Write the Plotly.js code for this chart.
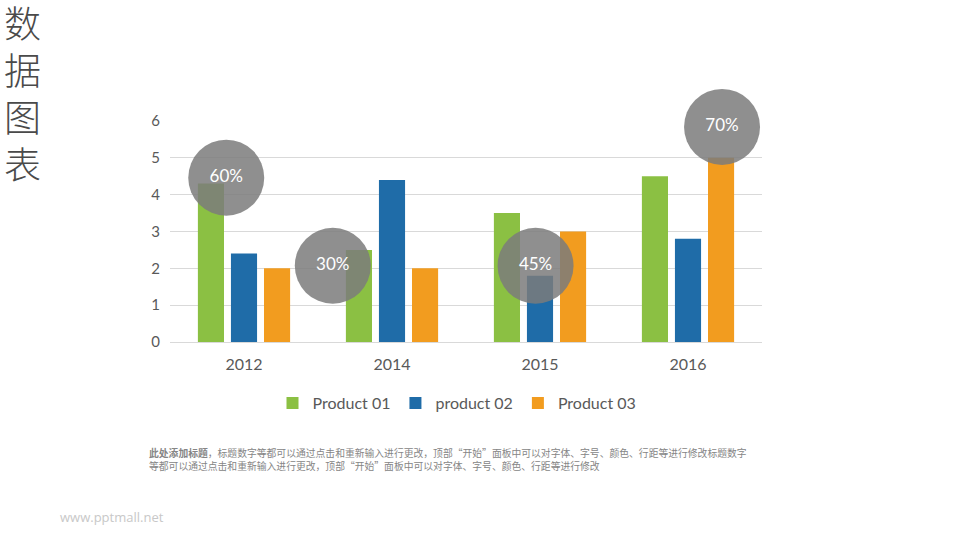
<!DOCTYPE html>
<html>
<head>
<meta charset="utf-8">
<script src="https://cdn.plot.ly/plotly-3.0.1.min.js"></script>
<style>
  html, body { margin: 0; padding: 0; background: #ffffff; }
  #chart { width: 960px; height: 540px; }
</style>
</head>
<body>
<div id="chart"></div>
<script>
// ---- data ----
const categories = ['2012', '2014', '2015', '2016'];
const seriesNames = ['Product 01', 'product 02', 'Product 03'];
const product01 = [4.3, 2.5, 3.5, 4.5];
const product02 = [2.4, 4.4, 1.8, 2.8];
const product03 = [2.0, 2.0, 3.0, 5.0];
const seriesColors = ['#8bc043', '#1f6ca8', '#f29c1f'];

// percentage badges (category index position, value position)
const badgeLabels = ['60%', '30%', '45%', '70%'];
const badgeX = [-0.12, 0.60, 1.97, 3.23];
const badgeY = [4.46, 2.07, 2.07, 5.84];

const yTicks = [0, 1, 2, 3, 4, 5, 6];

const titleChars = ['数', '据', '图', '表'];
const noteTitle = '此处添加标题';
const noteLine1 = '，标题数字等都可以通过点击和重新输入进行更改，顶部“开始”面板中可以对字体、字号、颜色、行距等进行修改标题数字';
const noteLine2 = '等都可以通过点击和重新输入进行更改，顶部“开始”面板中可以对字体、字号、颜色、行距等进行修改';
const watermark = 'www.pptmall.net';

// ---- build ----
const idx = categories.map((c, i) => i);
const series = [product01, product02, product03];
const traces = series.map((vals, k) => ({
  type: 'bar',
  name: seriesNames[k],
  x: idx,
  y: vals,
  marker: { color: seriesColors[k] },
  hoverinfo: 'skip'
}));

traces.push({
  type: 'scatter',
  mode: 'markers+text',
  x: badgeX,
  y: badgeY,
  text: badgeLabels,
  textposition: 'middle center',
  textfont: { family: 'Lato, sans-serif', size: 17, color: '#ffffff' },
  marker: { size: 76, color: 'rgba(123,123,123,0.85)', line: { width: 0 } },
  cliponaxis: false,
  showlegend: false,
  hoverinfo: 'skip'
});

const plotL = 170, plotR = 762, plotT = 121, plotB = 342;
const pw = plotR - plotL, ph = plotB - plotT;
const px = x => (x - plotL) / pw;
const py = y => (plotB - y) / ph;

const annotations = [];
const charCenters = [22, 69, 116, 163];
titleChars.forEach((ch, i) => {
  annotations.push({
    xref: 'paper', yref: 'paper',
    x: px(22), y: py(charCenters[i]),
    xanchor: 'center', yanchor: 'middle',
    text: ch, showarrow: false,
    height: 44,
    font: { family: '"Noto Sans CJK SC", sans-serif', size: 37, color: '#4a4a4a', weight: 300 }
  });
});
annotations.push({
  xref: 'paper', yref: 'paper',
  x: px(147), y: py(453),
  xanchor: 'left', yanchor: 'middle', align: 'left',
  text: '<b>' + noteTitle + '</b>' + noteLine1, showarrow: false,
  font: { family: '"Noto Sans CJK SC", sans-serif', size: 9.8, color: '#858585' }
});
annotations.push({
  xref: 'paper', yref: 'paper',
  x: px(147), y: py(466),
  xanchor: 'left', yanchor: 'middle', align: 'left',
  text: noteLine2, showarrow: false,
  font: { family: '"Noto Sans CJK SC", sans-serif', size: 9.8, color: '#858585' }
});
annotations.push({
  xref: 'paper', yref: 'paper',
  x: px(58), y: py(517),
  xanchor: 'left', yanchor: 'middle',
  text: watermark, showarrow: false,
  font: { family: '"Open Sans", sans-serif', size: 13, color: '#c8c8c8' }
});

const layout = {
  width: 960, height: 540,
  margin: { l: plotL, r: 960 - plotR, t: plotT, b: 540 - plotB, pad: 0 },
  paper_bgcolor: '#ffffff', plot_bgcolor: '#ffffff',
  barmode: 'group',
  bargap: 0.33,
  bargroupgap: 0.21,
  showlegend: true,
  legend: {
    orientation: 'h',
    x: px(457), xanchor: 'center',
    y: py(403), yanchor: 'middle',
    font: { family: 'Lato, sans-serif', size: 16, color: '#595959' },
    itemwidth: 30,
    traceorder: 'normal'
  },
  xaxis: {
    type: 'linear',
    range: [-0.5, 3.5],
    tickvals: idx,
    ticktext: categories,
    showgrid: false,
    zeroline: false,
    showline: true,
    linecolor: '#d9d9d9',
    linewidth: 1,
    ticks: 'outside', ticklen: 8, tickcolor: 'rgba(0,0,0,0)',
    tickfont: { family: 'Lato, sans-serif', size: 16, color: '#595959' },
    fixedrange: true
  },
  yaxis: {
    range: [0, 6],
    tickvals: yTicks,
    showgrid: true,
    gridcolor: '#d9d9d9',
    gridwidth: 1,
    zeroline: false,
    showline: false,
    ticks: 'outside', ticklen: 6, tickcolor: 'rgba(0,0,0,0)',
    tickfont: { family: 'Lato, sans-serif', size: 15, color: '#595959' },
    fixedrange: true
  },
  annotations: annotations,
  hovermode: false
};

Plotly.newPlot('chart', traces, layout, { displayModeBar: false, staticPlot: true });
</script>
</body>
</html>
